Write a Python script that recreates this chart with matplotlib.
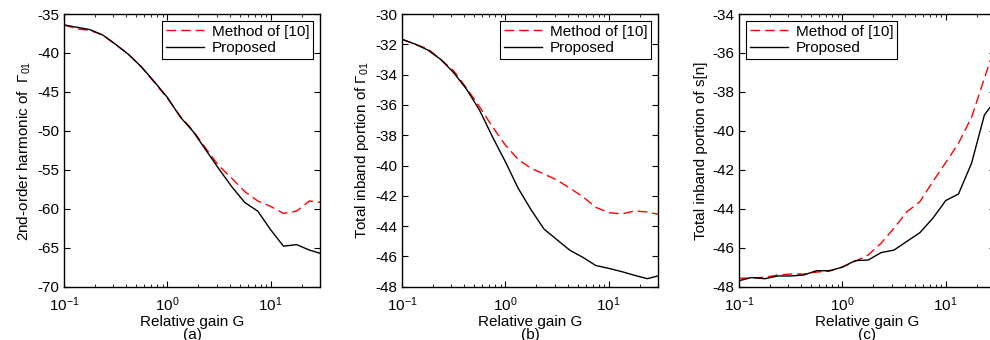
import numpy as np
import matplotlib
matplotlib.use('Agg')
import matplotlib.pyplot as plt

plt.rcParams['font.family'] = ['Liberation Sans', 'DejaVu Sans']
plt.rcParams['mathtext.fontset'] = 'custom'
plt.rcParams['mathtext.rm'] = 'Liberation Sans'
plt.rcParams['mathtext.it'] = 'Liberation Sans:italic'
plt.rcParams['mathtext.default'] = 'regular'
plt.rcParams['axes.unicode_minus'] = False

# relative gain G, 8 points per decade
gain = [0.1, 0.133, 0.178, 0.237, 0.316, 0.422, 0.562, 0.750, 1.0, 1.33, 1.78,
        2.37, 3.16, 4.22, 5.62, 7.50, 10.0, 13.3, 17.8, 23.7, 31.6]

# (a) 2nd-order harmonic of Gamma_01
a_ref = [-36.4, -36.9, -37.1, -37.7, -38.9, -40.2, -41.8, -43.8, -45.8, -48.1, -50.0,
         -52.3, -54.5, -56.1, -57.8, -59.0, -59.7, -60.6, -60.3, -59.0, -59.2]
a_prop = [-36.4, -36.7, -37.0, -37.7, -38.9, -40.2, -41.8, -43.7, -45.7, -48.2, -50.1,
          -52.5, -54.9, -57.2, -59.2, -60.3, -62.7, -64.8, -64.6, -65.3, -65.8]

# (b) total inband portion of Gamma_01
b_ref = [-31.67, -31.98, -32.3, -33.0, -33.75, -34.9, -36.12, -37.44, -38.65, -39.6, -40.19,
         -40.56, -40.96, -41.5, -42.06, -42.76, -43.11, -43.2, -43.0, -43.07, -43.25]
b_prop = [-31.67, -31.98, -32.38, -33.0, -33.87, -34.97, -36.34, -38.1, -39.75, -41.5, -42.94,
          -44.2, -44.9, -45.6, -46.06, -46.6, -46.79, -47.0, -47.25, -47.47, -47.25]

# (c) total inband portion of s[n]
c_ref = [-47.57, -47.55, -47.52, -47.4, -47.35, -47.35, -47.25, -47.2, -46.98, -46.7, -46.37,
         -45.77, -45.0, -44.15, -43.64, -42.61, -41.63, -40.64, -39.3, -37.3, -35.3]
c_prop = [-47.69, -47.53, -47.59, -47.45, -47.45, -47.4, -47.18, -47.18, -47.0, -46.66, -46.63,
          -46.25, -46.12, -45.67, -45.23, -44.49, -43.58, -43.24, -41.66, -39.18, -38.3]

panels = [
    (a_ref, a_prop, '2nd-order harmonic of  $\\Gamma_{01}$', (-70, -35), np.arange(-70, -34, 5), 'upper right', '(a)'),
    (b_ref, b_prop, 'Total inband portion of $\\Gamma_{01}$', (-48, -30), np.arange(-48, -29, 2), 'upper right', '(b)'),
    (c_ref, c_prop, 'Total inband portion of s[n]', (-48, -34), np.arange(-48, -33, 2), 'upper left', '(c)'),
]
lefts = [64, 402, 739]

fig = plt.figure(figsize=(9.9, 3.4), dpi=100)
for (ref, prop, ylab, ylim, yt, loc, tag), left in zip(panels, lefts):
    ax = fig.add_axes([left / 990, 53.3 / 340, 256 / 990, 272.7 / 340])
    ax.semilogx(gain, ref, color='red', lw=1.0, linestyle=(0, (7, 3.5)), label='Method of [10]')
    ax.semilogx(gain, prop, color='black', lw=1.0, label='Proposed')
    ax.set_xlim(0.1, 30)
    ax.set_ylim(*ylim)
    ax.set_yticks(yt)
    ax.tick_params(which='both', direction='in', top=True, right=True, labelsize=11)
    ax.tick_params(which='major', length=4)
    ax.tick_params(which='minor', length=2)
    ax.tick_params(axis='x', which='major', pad=6)
    for s in ax.spines.values():
        s.set_linewidth(1.0)
    ax.set_ylabel(ylab, fontsize=11, labelpad=3)
    ax.set_xlabel('Relative gain G\n' + tag, fontsize=11, labelpad=1, linespacing=0.9)
    leg = ax.legend(loc=loc, fontsize=11, fancybox=False, framealpha=1, edgecolor='black',
                    handlelength=2.5, handletextpad=0.5, borderaxespad=0.45,
                    borderpad=0.25, labelspacing=0.15)
    leg.get_frame().set_linewidth(0.8)

fig.savefig('out.png', dpi=100)
